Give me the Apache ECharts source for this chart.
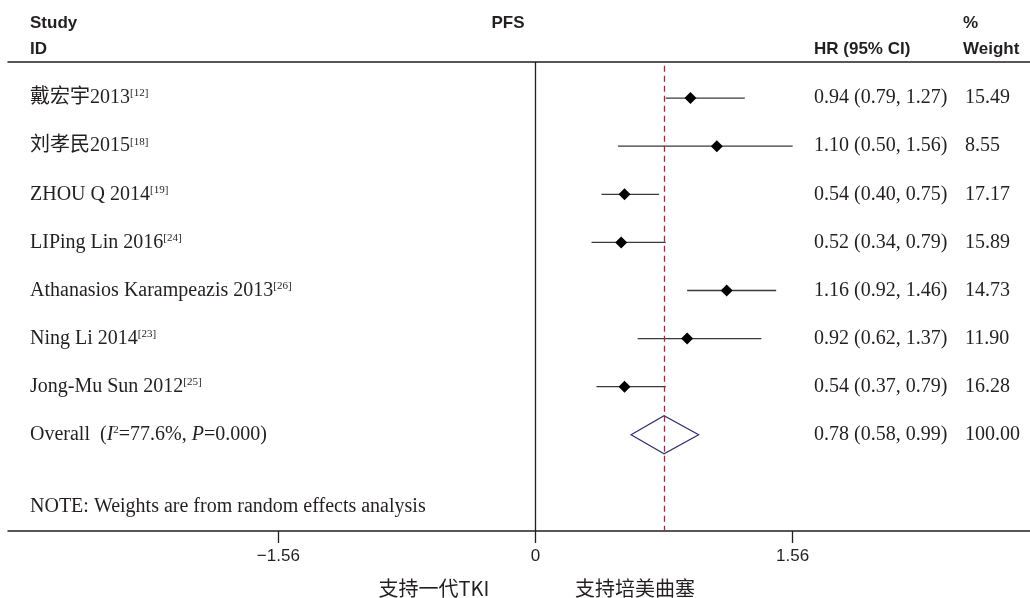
<!DOCTYPE html>
<html>
<head>
<meta charset="utf-8">
<script src="https://cdn.jsdelivr.net/npm/echarts@6/dist/echarts.min.js"></script>
<style>html,body{margin:0;padding:0;background:#fff;}</style>
</head>
<body>
<div id="main" style="width:1030px;height:598px;"></div>
<script type="text/javascript">
// 研究数据
var studies = ['戴宏宇2013', '刘孝民2015', 'ZHOU Q 2014', 'LIPing Lin 2016', 'Athanasios Karampeazis 2013', 'Ning Li 2014', 'Jong-Mu Sun 2012'];
var refs = ['12', '18', '19', '24', '26', '23', '25'];
var hr = [0.94, 1.10, 0.54, 0.52, 1.16, 0.92, 0.54];
var lower = [0.79, 0.50, 0.40, 0.34, 0.92, 0.62, 0.37];
var upper = [1.27, 1.56, 0.75, 0.79, 1.46, 1.37, 0.79];
var weights = ['15.49', '8.55', '17.17', '15.89', '14.73', '11.90', '16.28'];
var overall = [0.78, 0.58, 0.99];   // HR, lower, upper
var overallWeight = '100.00';
var overallI2 = '77.6%';
var overallP = '0.000';
var note = 'NOTE: Weights are from random effects analysis';
var tickValues = [-1.56, 0, 1.56];
var tickLabels = ['\u22121.56', '0', '1.56'];

var serif = '"Liberation Serif", "Times New Roman", "Noto Sans CJK SC", serif';
var sans = '"Liberation Sans", Arial, "Noto Sans CJK SC", sans-serif';
var ink = '#231f20';

var rows = studies.map(function (s, i) { return i + 1; });
var overallRow = studies.length + 1;
var noteRow = overallRow + 1.5;

function fmt(v) { return v.toFixed(2); }

var myChart = echarts.init(document.getElementById('main'));

var option = {
    animation: false,
    grid: { left: 8, right: 0, top: 62, bottom: 67 },
    xAxis: [{
        type: 'value', min: -3.2, max: 3.0, position: 'bottom',
        splitLine: { show: false },
        axisLine: { onZero: false, lineStyle: { color: ink, width: 1.5 } },
        axisTick: { customValues: tickValues, length: 12, lineStyle: { color: ink, width: 1.3 } },
        axisLabel: {
            customValues: tickValues, margin: 17, fontFamily: sans, fontSize: 17, color: ink,
            formatter: function (v) { return tickLabels[tickValues.indexOf(v)]; }
        }
    }, {
        type: 'value', min: -3.2, max: 3.0, position: 'top',
        splitLine: { show: false }, axisTick: { show: false }, axisLabel: { show: false },
        axisLine: { onZero: false, lineStyle: { color: ink, width: 1.5 } }
    }],
    yAxis: [{
        type: 'value', inverse: true, min: 0.25, max: 10, position: 'left',
        splitLine: { show: false }, axisTick: { show: false },
        axisLine: { show: false, onZero: false },
        axisLabel: {
            inside: true, margin: 22,
            customValues: rows.concat([overallRow, noteRow]),
            formatter: function (v) {
                if (v === noteRow) return '{n|' + note + '}';
                if (v === overallRow) return '{n|Overall  (}{i|I}{s|2}{n|=' + overallI2 + ', }{i|P}{n|=' + overallP + ')}';
                var i = v - 1;
                return '{n|' + studies[i] + '}{s|[' + refs[i] + ']}';
            },
            rich: {
                n: { fontFamily: serif, fontSize: 20, color: ink },
                i: { fontFamily: serif, fontSize: 20, fontStyle: 'italic', color: ink },
                s: { fontFamily: serif, fontSize: 11, color: ink, verticalAlign: 'top' }
            }
        }
    }, {
        type: 'value', inverse: true, min: 0.25, max: 10, position: 'right',
        splitLine: { show: false }, axisTick: { show: false },
        axisLine: { show: false, onZero: false },
        axisLabel: {
            inside: true, margin: 216, align: 'left',
            customValues: rows.concat([overallRow]),
            formatter: function (v) {
                if (v === overallRow) {
                    return '{h|' + fmt(overall[0]) + ' (' + fmt(overall[1]) + ', ' + fmt(overall[2]) + ')}{w|' + overallWeight + '}';
                }
                var i = v - 1;
                return '{h|' + fmt(hr[i]) + ' (' + fmt(lower[i]) + ', ' + fmt(upper[i]) + ')}{w|' + weights[i] + '}';
            },
            rich: {
                h: { fontFamily: serif, fontSize: 20, color: ink, width: 151 },
                w: { fontFamily: serif, fontSize: 20, color: ink }
            }
        }
    }],
    series: [{
        // 置信区间
        type: 'custom',
        silent: true,
        data: rows.map(function (r, i) { return [lower[i], upper[i], r]; }),
        encode: { x: [0, 1], y: 2 },
        renderItem: function (params, api) {
            var a = api.coord([api.value(0), api.value(2)]);
            var b = api.coord([api.value(1), api.value(2)]);
            return { type: 'line', shape: { x1: a[0], y1: a[1], x2: b[0], y2: b[1] },
                     style: { stroke: '#3a3a3a', lineWidth: 1.3 } };
        }
    }, {
        type: 'scatter',
        silent: true,
        symbol: 'diamond',
        symbolSize: 12,
        itemStyle: { color: '#000', opacity: 1 },
        data: rows.map(function (r, i) { return [hr[i], r]; }),
        markLine: {
            silent: true, symbol: 'none', label: { show: false },
            data: [
                [{ coord: [0, 0.25], lineStyle: { color: ink, type: 'solid', width: 1.3 } },
                 { coord: [0, 10], lineStyle: { color: ink, type: 'solid', width: 1.3 } }],
                [{ coord: [overall[0], 0.33], lineStyle: { color: '#a3283a', type: [6, 4], width: 1.3 } },
                 { coord: [overall[0], 10], lineStyle: { color: '#a3283a', type: [6, 4], width: 1.3 } }]
            ]
        }
    }, {
        // 合并效应菱形
        type: 'custom',
        silent: true,
        data: [[overall[1], overall[0], overall[2], overallRow]],
        encode: { x: [0, 1, 2], y: 3 },
        renderItem: function (params, api) {
            var l = api.coord([api.value(0), api.value(3)]);
            var c = api.coord([api.value(1), api.value(3)]);
            var r = api.coord([api.value(2), api.value(3)]);
            return { type: 'polygon',
                     shape: { points: [[l[0], c[1]], [c[0], c[1] - 19], [r[0], c[1]], [c[0], c[1] + 19]] },
                     style: { fill: 'none', stroke: '#2e3070', lineWidth: 1.2 } };
        }
    }],
    graphic: [
        { type: 'text', x: 30, y: 23, style: { text: 'Study', font: 'bold 17px ' + sans, fill: ink, align: 'left', verticalAlign: 'middle' } },
        { type: 'text', x: 30, y: 49, style: { text: 'ID', font: 'bold 17px ' + sans, fill: ink, align: 'left', verticalAlign: 'middle' } },
        { type: 'text', x: 508, y: 23, style: { text: 'PFS', font: 'bold 17px ' + sans, fill: ink, align: 'center', verticalAlign: 'middle' } },
        { type: 'text', x: 814, y: 49, style: { text: 'HR (95% CI)', font: 'bold 17px ' + sans, fill: ink, align: 'left', verticalAlign: 'middle' } },
        { type: 'text', x: 963, y: 23, style: { text: '%', font: 'bold 17px ' + sans, fill: ink, align: 'left', verticalAlign: 'middle' } },
        { type: 'text', x: 963, y: 49, style: { text: 'Weight', font: 'bold 17px ' + sans, fill: ink, align: 'left', verticalAlign: 'middle' } },
        { type: 'text', x: 434, y: 588, style: { text: '支持一代TKI', font: '20px "Noto Sans CJK SC", sans-serif', fill: ink, align: 'center', verticalAlign: 'middle' } },
        { type: 'text', x: 635, y: 588, style: { text: '支持培美曲塞', font: '20px "Noto Sans CJK SC", sans-serif', fill: ink, align: 'center', verticalAlign: 'middle' } }
    ]
};
myChart.setOption(option);
</script>
</body>
</html>
